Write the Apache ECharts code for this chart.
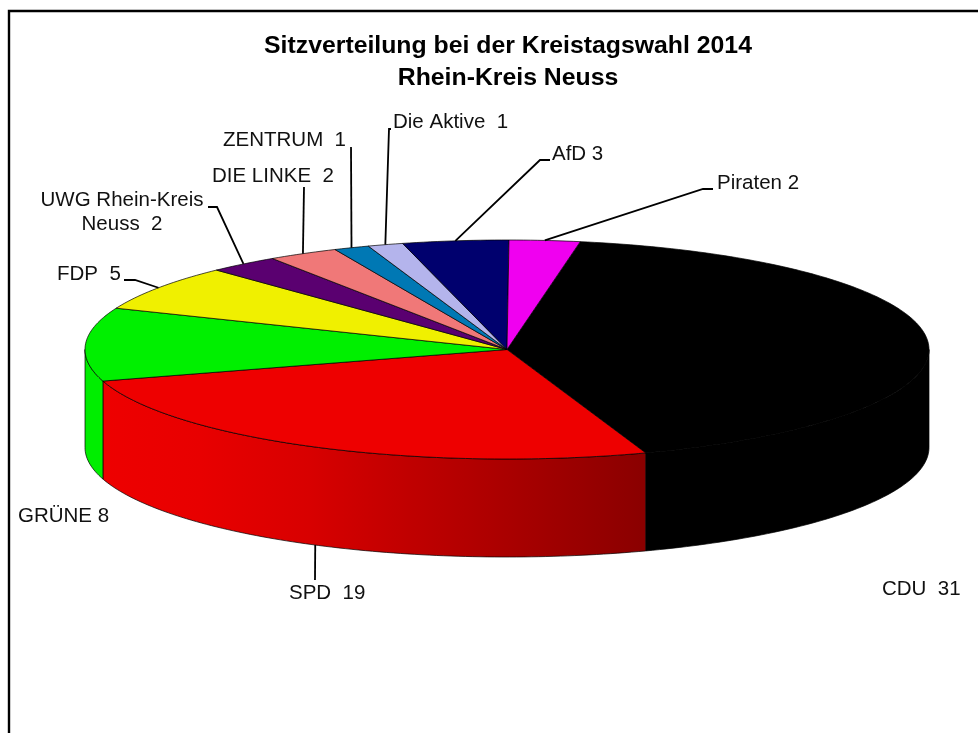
<!DOCTYPE html>
<html>
<head>
<meta charset="utf-8">
<title>Sitzverteilung</title>
<script src="https://cdn.jsdelivr.net/npm/echarts@6/dist/echarts.min.js"></script>
<style>
  html, body { margin: 0; padding: 0; background: #fff; }
  #chart { width: 978px; height: 733px; }
</style>
</head>
<body>
<div id="chart"></div>
<script>
// seats per party, clockwise from the top of the pie
const parties = ["CDU", "SPD", "GRÜNE", "FDP", "UWG", "DIE LINKE", "ZENTRUM", "Die Aktive", "AfD", "Piraten"];
const seats = [31, 19, 8, 5, 2, 2, 1, 1, 3, 2];
const sliceLabels = ["CDU  31", "SPD  19", "GRÜNE 8", "FDP  5", "UWG Rhein-Kreis\nNeuss  2", "DIE LINKE  2", "ZENTRUM  1", "Die Aktive  1", "AfD 3", "Piraten 2"];
const titleLines = ["Sitzverteilung bei der Kreistagswahl 2014", "Rhein-Kreis Neuss"];

// colours
const topColors = ["#000000", "#ee0000", "#00f000", "#f0f000", "#5a0070", "#f07878", "#0078b4", "#b4b4ec", "#00006e", "#f000f0"];
const sideColors = ["#000000", null, "#00ee00"];

// ellipse of the pie
const cx = 507, cy = 349.5, rx = 422, ry = 109.5, depth = 98;
const startAngle = 80;
const FONT = '"Liberation Sans", Arial, sans-serif';

// label place per slice: x, y, align, elbow of the leader line (no leader = none drawn)
const labelPos = [
  { x: 882, y: 589, align: "left" },
  { x: 289, y: 593, align: "left", leader: [[315, 580]], front: true },
  { x: 18, y: 516, align: "left" },
  { x: 57, y: 274, align: "left", leader: [[135, 280], [124, 280]] },
  { x: 122, y: 212, align: "center", leader: [[217, 207], [208, 207]] },
  { x: 212, y: 176, align: "left", leader: [[304, 187]] },
  { x: 223, y: 140, align: "left", leader: [[351, 147]] },
  { x: 393, y: 122, align: "left", leader: [[389, 129], [391, 129]] },
  { x: 552, y: 154, align: "left", leader: [[540, 160], [550, 160]] },
  { x: 717, y: 183, align: "left", leader: [[703, 189], [713, 189]] },
];

const total = seats.reduce((a, b) => a + b, 0);

function sliceAngles(i) {
  let before = 0;
  for (let k = 0; k < i; k++) before += seats[k];
  const a0 = startAngle - (before / total) * 360;
  return [a0, a0 - (seats[i] / total) * 360];
}

function rimPoint(deg, dy) {
  const t = (deg * Math.PI) / 180;
  return [cx + rx * Math.cos(t), cy - ry * Math.sin(t) + (dy || 0)];
}

function arcPoints(a0, a1, dy) {
  const pts = [];
  const n = Math.max(2, Math.ceil(Math.abs(a0 - a1)));
  for (let k = 0; k <= n; k++) pts.push(rimPoint(a0 + ((a1 - a0) * k) / n, dy));
  return pts;
}

function renderSide(params) {
  const i = params.dataIndex;
  let [a0, a1] = sliceAngles(i);
  // only the part of the rim facing the viewer, angles -180..0
  a0 = Math.min(a0, 0);
  a1 = Math.max(a1, -180);
  if (a0 <= a1) return null;
  const pts = arcPoints(a0, a1, 0).concat(arcPoints(a1, a0, depth));
  let fill = sideColors[i];
  if (fill === null) {
    fill = new echarts.graphic.LinearGradient(1, 0, 0, 0, [
      { offset: 0, color: "#8a0000" },
      { offset: 0.5, color: "#c80000" },
      { offset: 0.62, color: "#d80000" },
      { offset: 0.82, color: "#e80000" },
      { offset: 1, color: "#ee0000" },
    ]);
  }
  return {
    type: "polygon",
    shape: { points: pts },
    style: { fill: fill, stroke: "#000", lineWidth: 0.7 },
  };
}

function renderTop(params) {
  const i = params.dataIndex;
  const [a0, a1] = sliceAngles(i);
  const pts = [[cx, cy]].concat(arcPoints(a0, a1, 0));
  return {
    type: "polygon",
    shape: { points: pts },
    style: { fill: topColors[i], stroke: "#000", lineWidth: 0.7 },
  };
}

function renderLabel(params) {
  const i = params.dataIndex;
  const pos = labelPos[i];
  const children = [{
    type: "text",
    style: {
      x: pos.x, y: pos.y, text: sliceLabels[i],
      font: "20.5px " + FONT, fill: "#111", align: pos.align, verticalAlign: "middle", lineHeight: 24,
    },
  }];
  if (pos.leader) {
    const [a0, a1] = sliceAngles(i);
    const start = rimPoint((a0 + a1) / 2, pos.front ? depth : 0);
    children.push({
      type: "polyline",
      shape: { points: [start].concat(pos.leader) },
      style: { fill: null, stroke: "#000", lineWidth: 1.8 },
    });
  }
  return { type: "group", children: children };
}

const chart = echarts.init(document.getElementById("chart"), null, { renderer: "canvas" });
const rows = seats.map((v, i) => [i, v, parties[i]]);

chart.setOption({
  animation: false,
  backgroundColor: "#fff",
  title: [
    { text: titleLines[0], left: 503, top: 29, textAlign: "center", textStyle: { fontFamily: FONT, fontSize: 24.8, fontWeight: "bold", color: "#000" } },
    { text: titleLines[1], left: 503, top: 61, textAlign: "center", textStyle: { fontFamily: FONT, fontSize: 24.8, fontWeight: "bold", color: "#000" } },
  ],
  graphic: [
    { type: "polyline", silent: true, shape: { points: [[9, 733], [9, 11], [978, 11]] }, style: { fill: null, stroke: "#000", lineWidth: 2.4 } },
  ],
  series: [
    { type: "custom", coordinateSystem: "none", silent: true, data: rows, renderItem: renderSide },
    { type: "custom", coordinateSystem: "none", silent: true, data: rows, renderItem: renderTop },
    { type: "custom", coordinateSystem: "none", silent: true, data: rows, renderItem: renderLabel },
  ],
});
</script>
</body>
</html>
